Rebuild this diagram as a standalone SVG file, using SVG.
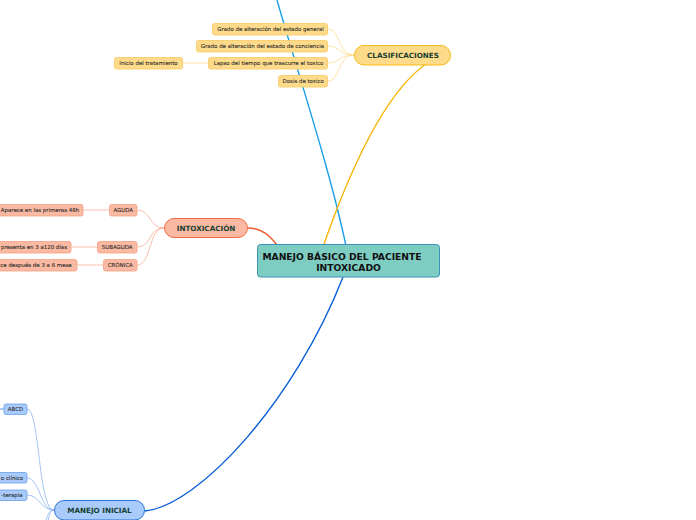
<svg xmlns="http://www.w3.org/2000/svg" width="696" height="520" viewBox="0 0 696 520">
<style>
.t{font-family:"DejaVu Sans",Verdana,sans-serif;font-size:5.45px;fill:#262626;stroke:#262626;stroke-width:0.08;text-anchor:middle;dominant-baseline:central}
.h{font-family:"DejaVu Sans",Verdana,sans-serif;font-size:7.2px;font-weight:bold;fill:#183f33;text-anchor:middle;dominant-baseline:central}
.c{font-family:"DejaVu Sans",Verdana,sans-serif;font-size:9.2px;font-weight:bold;fill:#111;text-anchor:middle;dominant-baseline:central}
.yb{fill:#fedb8a;stroke:#f7c860;stroke-width:0.8}
.sb{fill:#f9b9a2;stroke:#f4a183;stroke-width:0.8}
.bb{fill:#a9cbfb;stroke:#6a9fe8;stroke-width:0.8}
.yl{fill:none;stroke:#fcd98a;stroke-width:0.8}
.sl{fill:none;stroke:#f9ae95;stroke-width:0.8}
.bl{fill:none;stroke:#8db5ef;stroke-width:0.8}
</style>
<rect width="696" height="520" fill="#fff"/>
<g id="connectors">
<path d="M277,0 C300,80 330,170 346,246" fill="none" stroke="#1aa0e8" stroke-width="1.4"/>
<path d="M324,244 C350,170 385,90 429,62" fill="none" stroke="#f7b400" stroke-width="1.4"/>
<path d="M248,228 C262,228 270,236 277,245" fill="none" stroke="#f05a28" stroke-width="1.4"/>
<path d="M343,277 C295,400 200,505 145,511" fill="none" stroke="#0a5fd6" stroke-width="1.4"/>
<path class="yl" d="M354,55 C338,55 340,29 328,29"/>
<path class="yl" d="M354,55 C338,55 340,46 328,46"/>
<path class="yl" d="M354,55 C338,55 340,63 328,63"/>
<path class="yl" d="M354,55 C338,55 340,81 328,81"/>
<path class="yl" d="M208,63 L182,63"/>
<path class="sl" d="M164,228 C148,228 152,210 137,210"/>
<path class="sl" d="M164,228 C148,228 152,247 137,247"/>
<path class="sl" d="M164,228 C148,228 152,265 137,265"/>
<path class="sl" d="M109,210 L83,210"/>
<path class="sl" d="M97,247 L71,247"/>
<path class="sl" d="M103,265 L77,265"/>
<path class="bl" d="M54,510 C38,510 40,409 27,409"/>
<path class="bl" d="M54,510 C40,510 40,478 27,478"/>
<path class="bl" d="M54,510 C40,510 40,495 27,495"/>
<path class="bl" d="M54,510 C46,510 46,525 42,535"/>
<path class="bl" d="M54,510 C48,510 48,525 46,535"/>
<path d="M0,409 L4,409" fill="none" stroke="#3d7fe0" stroke-width="0.8"/>
</g>
<g id="central">
<rect x="257.5" y="244.5" width="182" height="32.5" rx="3" fill="#7ecdc3" stroke="#3d93b8" stroke-width="1"/>
<text class="c" x="342" y="256">MANEJO BÁSICO DEL PACIENTE</text>
<text class="c" x="348.5" y="267.5">INTOXICADO</text>
</g>
<g id="clasificaciones">
<rect x="354.5" y="45.5" width="96" height="19.5" rx="9.5" fill="#fedb8a" stroke="#f5b400" stroke-width="0.9"/>
<text class="h" x="403" y="55.5">CLASIFICACIONES</text>
</g>
<g id="c1"><rect class="yb" x="212.5" y="23.5" width="115" height="11.5" rx="2"/><text class="t" x="270.5" y="29.3">Grado de alteración del estado general</text></g>
<g id="c2"><rect class="yb" x="196.5" y="40.5" width="131" height="11.5" rx="2"/><text class="t" x="262.5" y="46.3">Grado de alteración del estado de conciencia</text></g>
<g id="c3"><rect class="yb" x="208.5" y="57.5" width="119" height="11.5" rx="2"/><text class="t" x="268.5" y="63.3">Lapso del tiempo que trascurre el toxico</text></g>
<g id="c4"><rect class="yb" x="278.5" y="75.5" width="49" height="11.5" rx="2"/><text class="t" x="303.2" y="81.3">Dosis de toxico</text></g>
<g id="c5"><rect class="yb" x="114.5" y="57.5" width="68" height="11.5" rx="2"/><text class="t" x="148.5" y="63.3">Inicio del tratamiento</text></g>
<g id="intoxicacion">
<rect x="164.5" y="218.5" width="83" height="19" rx="9.5" fill="#f9b9a2" stroke="#f06030" stroke-width="0.9"/>
<text class="h" x="206" y="228">INTOXICACIÓN</text>
</g>
<g id="aguda"><rect class="sb" x="109.5" y="204.5" width="27.5" height="11.5" rx="2"/><text class="t" x="123.2" y="210.3">AGUDA</text></g>
<g id="subaguda"><rect class="sb" x="97.5" y="241.5" width="39.5" height="11.5" rx="2"/><text class="t" x="117.2" y="247.3">SUBAGUDA</text></g>
<g id="cronica"><rect class="sb" x="103.5" y="259.5" width="33.5" height="11.5" rx="2"/><text class="t" x="120.2" y="265.3">CRÓNICA</text></g>
<g id="aguda1"><rect class="sb" x="-3" y="204.5" width="86" height="11.5" rx="2"/><text class="t" x="40" y="210.3">Aparece en las primeras 48h</text></g>
<g id="subaguda1"><rect class="sb" x="-3" y="241.5" width="74" height="11.5" rx="2"/><text class="t" x="34" y="247.3">presenta en 3 a120 días</text></g>
<g id="cronica1"><rect class="sb" x="-3" y="259.5" width="80" height="11.5" rx="2"/><text class="t" x="36" y="265.3">ce después de 3 a 6 mese</text></g>
<g id="manejo">
<rect x="54.5" y="500.5" width="90" height="19.5" rx="9.5" fill="#a9cbfb" stroke="#1a66d0" stroke-width="0.9"/>
<text class="h" x="99.5" y="510.5">MANEJO INICIAL</text>
</g>
<g id="abcd"><rect class="bb" x="4" y="404" width="23" height="10.5" rx="2"/><text class="t" x="15.5" y="409.1">ABCD</text></g>
<g id="clinico"><rect class="bb" x="-3" y="472.5" width="30" height="10.5" rx="2"/><text class="t" x="12" y="477.6">o clínico</text></g>
<g id="terapia"><rect class="bb" x="-3" y="490" width="30" height="10.5" rx="2"/><text class="t" x="12" y="495.1">-terapia</text></g>
</svg>
